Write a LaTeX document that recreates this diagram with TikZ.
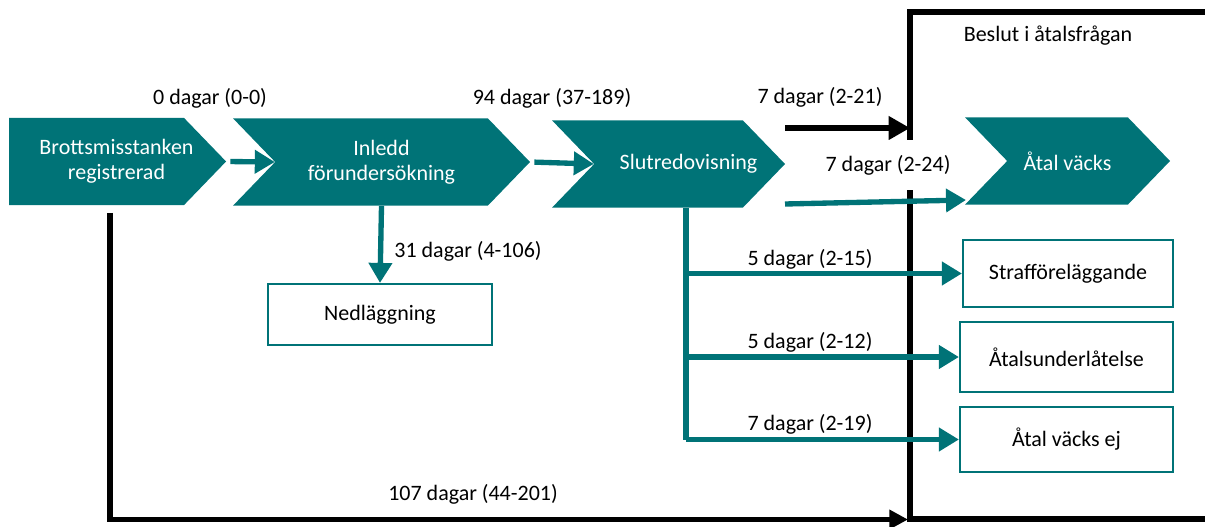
\documentclass[tikz,border=0pt]{standalone}
\usepackage{fontspec}
\setmainfont{Carlito}
\usepackage{xcolor}
\usetikzlibrary{shapes.symbols,arrows.meta,positioning}
\definecolor{BRATeal}{RGB}{0, 115, 119}

\begin{document}
\begin{tikzpicture}[x=0.75pt, y=-0.75pt, font=\fontsize{16.5}{19}\selectfont,
    stage/.style={signal, signal to=east, signal pointer angle=92, fill=BRATeal,
        text=white, align=center, inner sep=0pt, minimum height=65.5pt},
    outcome/.style={draw=BRATeal, line width=1.6pt, fill=white, inner sep=0pt},
    flow/.style={draw=BRATeal, line width=4pt, -{Triangle[length=15pt, width=17pt]}},
    path/.style={draw=black, line width=3.8pt},
    days/.style={inner sep=1pt}]
    \useasboundingbox (0,0) rectangle (1205,527);

    % Beslut frame
    \draw[path] (1207,12) -- (910,12) -- (910,519) -- (1207,519);
    \node[days] (frametitle) at (1048,36) {Beslut i åtalsfrågan};

    % Stages
    \node[stage, minimum width=162.75pt,
        label={[text=white, align=center, xshift=15pt]center:Brottsmisstanken\\registrerad}] (reg) at (96.5,161.5) {};
    \node[stage, signal from=west, minimum width=222.75pt] (inl) at (381.5,162) {Inledd\\förundersökning};
    \node[stage, signal from=west, minimum width=174.75pt,
        label={[text=white, xshift=15pt]center:Slutredovisning}] (slut) at (668.5,164) {};
    \node[stage, signal from=west, minimum width=153.75pt] (atal) at (1067.5,161) {Åtal väcks};

    % Outcomes
    \node[outcome, minimum width=168pt, minimum height=45.75pt] (ned) at (380,314.5) {Nedläggning};
    \node[outcome, minimum width=157.5pt, minimum height=50.25pt] (straff) at (1068,273.5) {Strafföreläggande};
    \node[outcome, minimum width=159.75pt, minimum height=52.5pt] (underl) at (1066.5,357) {Åtalsunderlåtelse};
    \node[outcome, minimum width=159.75pt, minimum height=48.75pt] (ej) at (1066.5,439.5) {Åtal väcks ej};

    % Free ends
    \coordinate (slutTop) at (785,128);
    \coordinate (frameHit) at (910,128);
    \coordinate (slutLow) at (785,204);
    \coordinate (atalLow) at (966,200);
    \coordinate (slutFoot) at (686,208);
    \coordinate (regFoot) at (110,213);
    \coordinate (frameFoot) at (908,519.5);

    % Black paths
    \draw[path, -{Triangle[length=16pt, width=17pt]}] (slutTop) -- (frameHit);
    \draw[path, -{Triangle[length=14pt, width=14pt]}] (regFoot) -- (regFoot |- frameFoot) -- (frameFoot);
    \node[days, fill=white, inner ysep=11pt] (d24) at (888,165) {7 dagar (2-24)};

    % Teal flows
    \draw[flow, shorten <=3pt] (reg.east) -- (inl.west);
    \draw[flow, shorten <=3pt] (inl.east) -- (slut.west);
    \draw[flow] (inl.south) -- (ned.north);
    \draw[flow] (slutLow) -- (atalLow);
    \draw[draw=BRATeal, line width=4pt] (slutFoot) -- (slutFoot |- ej.west);
    \draw[flow] (slutFoot |- straff.west) -- (straff.west);
    \draw[flow] (slutFoot |- underl.west) -- (underl.west);
    \draw[flow] (slutFoot |- ej.west) -- (ej.west);

    % Durations
    \node[days] (d0) at (210,98) {0 dagar (0-0)};
    \node[days] (d94) at (552,98) {94 dagar (37-189)};
    \node[days] (d21) at (820,97) {7 dagar (2-21)};
    \node[days] (d31) at (468,251) {31 dagar (4-106)};
    \node[days] (d15) at (810,259) {5 dagar (2-15)};
    \node[days] (d12) at (810,342) {5 dagar (2-12)};
    \node[days] (d19) at (810,424) {7 dagar (2-19)};
    \node[days] (d107) at (473,494) {107 dagar (44-201)};
\end{tikzpicture}
\end{document}
